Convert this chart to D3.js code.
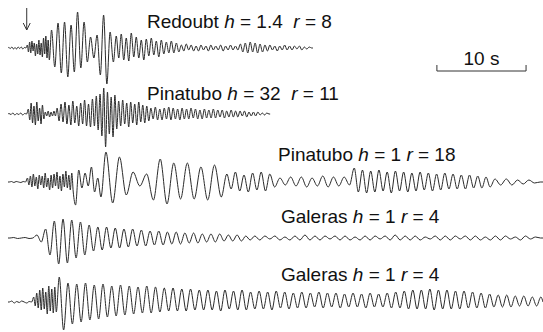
<!DOCTYPE html>
<html>
<head>
<meta charset="utf-8">
<script src="https://cdn.jsdelivr.net/npm/d3@7"></script>
<style>
  body { margin: 0; background: #fff; }
  figure { margin: 0; }
  svg { display: block; }
  text { font-family: "Liberation Sans", Arial, sans-serif; fill: #111; white-space: pre; }
</style>
</head>
<body>
<figure id="seis"></figure>
<script>
// labels
const stationNames = ["Redoubt", "Pinatubo", "Pinatubo", "Galeras", "Galeras"];
const depthH = ["1.4", "32", "1", "1", "1"];
const distR = ["8", "11", "18", "4", "4"];

// each trace: segment boundaries in seconds, and peak/trough amplitudes read per segment
const redoubtTimes = [0, 2.1, 4.7, 12.0, 19.3, 34.2];
const redoubtValues = [
  [0.5, -0.5, 1, -1, 0.5, -1, 1, -0.5, 1, -1, 0.5, 0],
  [3, -4, 6, -5, 7, -3, 5, -8, 4, -6, 8, -7, 5, -9, 10, -6, 12, -10, 8, -12],
  [18, -19, 25, -25, 26, -29, 23, -24, 36, -20, 26, -14, 11, -10, 13, -27, 33, -36, 16, -14],
  [12, -10, 14, -12, 10, -13, 15, -9, 11, -10, 8, -12, 9, -8, 10, -7, 7, -9, 8, -6, 6, -5, 7, -5, 5, -4],
  [3, -3, 4, -2, 3, -3, 2, -3, 3, -2, 2, -3, 3, -2, 2, -2, 3, -3, 2, -2, 3, -2, 2, -2, 4, -4, 5, -5, 6, -4,
   5, -5, 4, -4, 3, -3, 3, -2, 2, -3, 2, -2, 3, -2, 2, -2, 2, -1, 2, -2, 1, -1, 1, 0]
];

const pinatubo32Times = [0, 2.2, 4.1, 5.4, 9.8, 12.3, 15.9, 29.4];
const pinatubo32Values = [
  [0.5, -0.5, 1, -1, 0.5, -0.5, 1, -1, 0.5, 0],
  [5, -6, 11, -9, 8, -11, 12, -7, 6, -10, 9, -5],
  [2, -2, 3, -3, 2, -2, 3, -2],
  [6, -7, 10, -8, 12, -10, 9, -11, 13, -9, 8, -12, 11, -10, 14, -12, 10, -13, 15, -12],
  [18, -16, 20, -22, 26, -33, 22, -20, 17, -23, 19, -15],
  [13, -12, 14, -10, 11, -13, 12, -9, 10, -11, 12, -8, 9, -9, 8, -7],
  [6, -5, 7, -6, 5, -6, 6, -5, 7, -6, 6, -5, 5, -6, 6, -5, 5, -5, 6, -4, 5, -5, 4, -5, 5, -4, 4, -4, 5, -4,
   4, -3, 4, -4, 3, -3, 4, -3, 3, -3, 3, -2, 3, -3, 2, -2, 2, -2, 2, -1, 1, -1, 1, 0]
];

const pinatubo1Times = [0, 2.1, 7.4, 10.6, 24.3, 29.6, 38.6, 54.3, 60];
const pinatubo1Values = [
  [0, 0.5, -0.5, 0.5, 0, -0.5, 0.5, 0],
  [4, -3, 6, -5, 8, -4, 5, -7, 7, -3, 6, -6, 9, -5, 4, -8, 7, -6, 8, -4, 10, -7, 6, -9, 8, -5, 11, -6, 7, -8, 9, -10],
  [-23, 12, -6, 9, -4, 15, -10, 4, -15],
  [30, -21, 25, -13, 10, -4, 8, -18, 23, -22, 19, -17, 19, -17, 15, -18, 17, -15],
  [8, -7, 10, -9, 7, -10, 9, -8, 10, -9, 8],
  [-5, 4, -3, 5, -4, 5, -5, 4, -4, 6, -5, 5, -4, 5, -3],
  [14, -10, 12, -11, 11, -10, 12, -9, 10, -11, 11, -9, 10, -10, 9, -9, 10, -8, 9, -9, 8, -8, 9, -7, 8, -7,
   7, -7, 7, -6, 6, -6, 5, -5],
  [3, -3, 3, -3, 2, -2, 2, -1, 0]
];

const galerasATimes = [0, 3.0, 27.4, 60];
const galerasAValues = [
  [0, 0.5, -0.5, 0, 0.5, -0.5, 0],
  [3, -4, 9, -17, 17, -26, 19, -25, 18, -20, 16, -17, 13, -13, 11, -12, 11, -10, 10, -10, 9, -9, 9, -8, 8, -8,
   7, -7, 7, -7, 6, -6, 6, -6, 5, -5, 5, -5, 4, -4, 4, -4, 4, -3, 3, -3, 3, -3, 2, -2],
  [2, -2, 2, -1, 2, -2, 1, -2, 2, -2, 3, -2, 2, -2, 2, -1, 2, -2, 2, -2, 1, -2, 2, -2, 2, -1, 2, -2, 3, -2,
   2, -2, 2, -2, 1, -1, 2, -2, 2, -2, 2, -1, 2, -2, 2, -2, 1, -2, 2, -2, 2, -1, 1, -2, 2, -1, 1, 0]
];

const galerasBTimes = [0, 2.8, 5.5, 21.7, 60];
const galerasBValues = [
  [0, 1, -1, 0.5, -0.5, 1, 0, -1, 0.5, 0],
  [5, -4, 9, -6, 12, -8, 14, -7, 10, -12, 16, -9, 13, -11, 15, -10],
  [25, -28, 19, -22, 18, -20, 19, -18, 17, -17, 18, -15, 16, -14, 17, -13, 16, -12, 15, -11, 16, -11,
   15, -10, 14, -9, 14, -9, 13, -9, 13, -8, 12],
  [-8, 12, -8, 11, -9, 12, -7, 11, -8, 12, -8, 10, -7, 11, -7, 10, -8, 11, -6, 10, -7, 9,
   -6, 10, -6, 9, -5, 10, -6, 9, -5, 9, -6, 8, -5, 9, -5, 8, -6, 9, -5, 8, -5, 9, -6, 10, -6, 11, -7, 12,
   -7, 12, -7, 13, -8, 12, -7, 12, -7, 11, -7, 11, -6, 10, -6, 9,
   -6, 8, -5, 7, -5, 7, -5, 6, -4, 6, -4, 5, -4, 5]
];

const traceTimes = [redoubtTimes, pinatubo32Times, pinatubo1Times, galerasATimes, galerasBTimes];
const traceValues = [redoubtValues, pinatubo32Values, pinatubo1Values, galerasAValues, galerasBValues];

const onsetTime = 2.1;        // arrow on the Redoubt trace
const scaleBarStart = 48.1;   // seconds
const scaleBarLength = 10;

// layout
const width = 543, height = 332;
const baselineY = [48, 114, 182, 238, 302];
const labelPos = [[147, 28], [147, 100], [278, 161], [281, 223], [281, 281]];

const x = d3.scaleLinear().domain([0, 60]).range([8, 543]);

const svg = d3.select("figure#seis")
  .append("svg")
  .attr("width", width)
  .attr("height", height);

function tracePoints(times, values) {
  const pts = [[times[0], 0]];
  values.forEach((seg, k) => {
    const pos = d3.scalePoint()
      .domain(d3.range(seg.length))
      .range([times[k], times[k + 1]])
      .padding(0.5);
    seg.forEach((v, j) => pts.push([pos(j), v]));
  });
  pts.push([times[times.length - 1], 0]);
  return pts;
}

traceTimes.forEach((times, i) => {
  const y = d3.scaleLinear()
    .domain([-40, 40])
    .range([baselineY[i] + 40, baselineY[i] - 40]);
  const line = d3.line()
    .x(d => x(d[0]))
    .y(d => y(d[1]))
    .curve(d3.curveMonotoneX);
  svg.append("path")
    .datum(tracePoints(times, traceValues[i]))
    .attr("d", line)
    .attr("fill", "none")
    .attr("stroke", "#2b2b2b")
    .attr("stroke-width", 1)
    .attr("stroke-linejoin", "round");
});

// labels
labelPos.forEach((p, i) => {
  const t = svg.append("text")
    .attr("x", p[0])
    .attr("y", p[1])
    .attr("font-size", 19);
  t.append("tspan").text(stationNames[i] + " ");
  t.append("tspan").attr("font-style", "italic").text("h");
  t.append("tspan").text(" = " + depthH[i] + (i < 2 ? "  " : " "));
  t.append("tspan").attr("font-style", "italic").text("r");
  t.append("tspan").text(" = " + distR[i]);
});

// onset arrow
const ax = x(onsetTime);
svg.append("path")
  .attr("d", `M${ax},8V30M${ax - 3.5},23L${ax},30L${ax + 3.5},23`)
  .attr("fill", "none")
  .attr("stroke", "#333")
  .attr("stroke-width", 1);

// 10 s scale bar
const bx0 = x(scaleBarStart), bx1 = x(scaleBarStart + scaleBarLength);
svg.append("path")
  .attr("d", `M${bx0},65V71H${bx1}V65`)
  .attr("fill", "none")
  .attr("stroke", "#333")
  .attr("stroke-width", 1);
svg.append("text")
  .attr("x", (bx0 + bx1) / 2)
  .attr("y", 65)
  .attr("text-anchor", "middle")
  .attr("font-size", 19)
  .text("10 s");
</script>
</body>
</html>
